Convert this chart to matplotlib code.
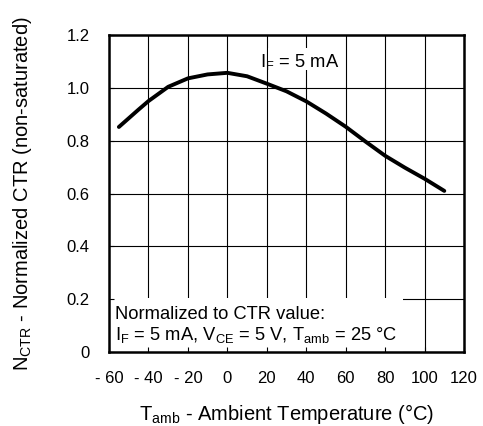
import matplotlib.pyplot as plt
from matplotlib.patches import Rectangle

plt.rcParams['font.family'] = ['Liberation Sans', 'DejaVu Sans']
plt.rcParams['mathtext.fontset'] = 'custom'
plt.rcParams['mathtext.rm'] = 'Liberation Sans'
plt.rcParams['mathtext.it'] = 'Liberation Sans'

# 曲线数据 (温度 vs 归一化CTR)
temp = [-55, -50, -45, -40, -30, -20, -10, 0, 10, 20, 30, 40, 50, 60, 70, 80, 90, 100, 110]
n_ctr = [0.852, 0.885, 0.918, 0.95, 1.004, 1.036, 1.051, 1.057, 1.044, 1.016, 0.987,
         0.949, 0.903, 0.853, 0.797, 0.743, 0.698, 0.656, 0.61]

x_ticks = [-60, -40, -20, 0, 20, 40, 60, 80, 100, 120]
x_labels = ['- 60', '- 40', '- 20', '0', '20', '40', '60', '80', '100', '120']
y_ticks = [0, 0.2, 0.4, 0.6, 0.8, 1.0, 1.2]
y_labels = ['0', '0.2', '0.4', '0.6', '0.8', '1.0', '1.2']

fig = plt.figure(figsize=(4.83, 4.26), dpi=100)
ax = fig.add_axes([0.2257, 0.1737, 0.735, 0.744])

# 网格线
for xv in x_ticks:
    ax.axvline(xv, color='black', lw=0.8, zorder=1)
for yv in y_ticks:
    ax.axhline(yv, color='black', lw=0.8, zorder=1)

# 文字背后的白色区域
ax.add_patch(Rectangle((-60, 0), 149, 0.204, facecolor='white', edgecolor='none', zorder=2))
ax.add_patch(Rectangle((20.6, 1.067), 36, 0.083, facecolor='white', edgecolor='none', zorder=2))

ax.plot(temp, n_ctr, color='black', lw=2.8, solid_capstyle='round', zorder=4)

ax.text(16.5, 1.08, r'I$_\mathrm{F}$ = 5 mA', fontsize=13.2, zorder=3)
ax.text(-57, 0.125, 'Normalized to CTR value:', fontsize=13.2, zorder=3)
ax.text(-57, 0.045, r'I$_\mathrm{F}$ = 5 mA, V$_\mathrm{CE}$ = 5 V, T$_\mathrm{amb}$ = 25 °C',
        fontsize=13.2, zorder=3)

ax.set_xlim(-60, 120)
ax.set_ylim(0, 1.2)
ax.set_xticks(x_ticks)
ax.set_xticklabels(x_labels)
ax.set_yticks(y_ticks)
ax.set_yticklabels(y_labels)
ax.set_axisbelow(False)
ax.tick_params(direction='in', length=3.5, width=0.8, labelsize=12, pad=14)

for s in ax.spines.values():
    s.set_linewidth(1.8)
    s.set_zorder(5)

ax.set_xlabel(r'T$_\mathrm{amb}$ - Ambient Temperature (°C)', fontsize=14.5, labelpad=11)
ax.set_ylabel(r'N$_\mathrm{CTR}$ - Normalized CTR (non-saturated)', fontsize=14.5, labelpad=23)

fig.savefig('out.png', dpi=100)
